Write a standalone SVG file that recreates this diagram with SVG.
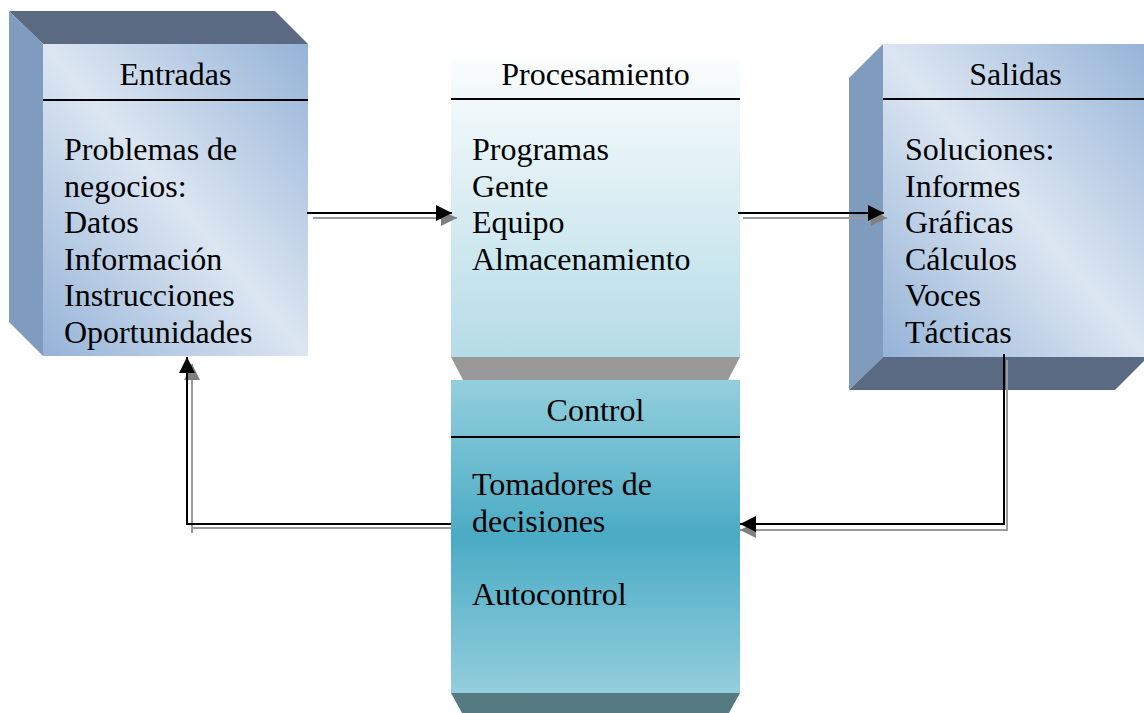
<svg xmlns="http://www.w3.org/2000/svg" width="1144" height="713" viewBox="0 0 1144 713">
<defs>
<linearGradient id="gBlue" x1="1" y1="0" x2="0" y2="1">
<stop offset="0" stop-color="#95b3d7"/>
<stop offset="0.5" stop-color="#dce6f2"/>
<stop offset="1" stop-color="#95b3d7"/>
</linearGradient>
<linearGradient id="gProc" x1="0" y1="0" x2="0" y2="1">
<stop offset="0" stop-color="#fbfdfe"/>
<stop offset="1" stop-color="#b5dce7"/>
</linearGradient>
<linearGradient id="gCtrl" x1="0" y1="0" x2="0" y2="1">
<stop offset="0" stop-color="#93cfdd"/>
<stop offset="0.5" stop-color="#4aabc5"/>
<stop offset="1" stop-color="#93cedc"/>
</linearGradient>
<marker id="ah" viewBox="0 0 10 10" refX="10" refY="5" markerWidth="16" markerHeight="16" markerUnits="userSpaceOnUse" orient="auto">
<path d="M0,0 L10,5 L0,10 z" fill="#000"/>
</marker>
<marker id="ahs" viewBox="0 0 10 10" refX="10" refY="5" markerWidth="16" markerHeight="16" markerUnits="userSpaceOnUse" orient="auto">
<path d="M0,0 L10,5 L0,10 z" fill="#808080"/>
</marker>
</defs>
<style>
text{font-family:"Liberation Serif","Times New Roman",serif;font-size:32px;fill:#000}
.t{text-anchor:middle}
.hl{stroke:#000;stroke-width:2}
.side{fill:#7f9bbd}
.dark{fill:#5a6a82}
.sh{fill:none;stroke:#9a9a9a;stroke-width:2}
.ln{fill:none;stroke:#000;stroke-width:2}
</style>
<rect width="1144" height="713" fill="#fff"/>

<g id="entradas">
<polygon class="dark" points="9,11 275,11 308,44 43,44"/>
<polygon class="side" points="9,11 43,44 43,356 9,322"/>
<rect x="43" y="44" width="265" height="312" fill="url(#gBlue)"/>
<line class="hl" x1="43" y1="100" x2="308" y2="100"/>
<text class="t" x="175.5" y="85">Entradas</text>
<text x="64" y="160">Problemas de</text>
<text x="64" y="196.5">negocios:</text>
<text x="64" y="233">Datos</text>
<text x="64" y="269.5">Información</text>
<text x="64" y="306">Instrucciones</text>
<text x="64" y="342.5">Oportunidades</text>
</g>

<g id="procesamiento">
<rect x="451" y="58" width="289" height="299" fill="url(#gProc)"/>
<polygon fill="#999999" points="451,357 740,357 728,380 463,380"/>
<line class="hl" x1="451" y1="99" x2="740" y2="99"/>
<text class="t" x="595.5" y="85">Procesamiento</text>
<text x="472" y="160">Programas</text>
<text x="472" y="196.5">Gente</text>
<text x="472" y="233">Equipo</text>
<text x="472" y="269.5">Almacenamiento</text>
</g>

<g id="control">
<rect x="451" y="380" width="289" height="313" fill="url(#gCtrl)"/>
<polygon fill="#567a81" points="451,693 740,693 729,713 462,713"/>
<line class="hl" x1="451" y1="437" x2="740" y2="437"/>
<text class="t" x="595.5" y="421">Control</text>
<text x="472" y="495">Tomadores de</text>
<text x="472" y="531.5">decisiones</text>
<text x="472" y="605">Autocontrol</text>
</g>

<g id="salidas">
<polygon class="side" points="849,78 883,44 883,357 849,390"/>
<polygon class="dark" points="849,390 883,357 1148,357 1115,390"/>
<rect x="883" y="44" width="265" height="313" fill="url(#gBlue)"/>
<line class="hl" x1="883" y1="99" x2="1148" y2="99"/>
<text class="t" x="1015.5" y="85">Salidas</text>
<text x="905" y="160">Soluciones:</text>
<text x="905" y="196.5">Informes</text>
<text x="905" y="233">Gráficas</text>
<text x="905" y="269.5">Cálculos</text>
<text x="905" y="306">Voces</text>
<text x="905" y="342.5">Tácticas</text>
</g>

<g id="connectors">
<polyline class="sh" points="313,218 457,218" marker-end="url(#ahs)"/>
<polyline class="sh" points="743,218 887,218" marker-end="url(#ahs)"/>
<polyline class="sh" points="1007,360 1007,530 740,530" marker-end="url(#ahs)"/>
<polyline class="sh" points="451,528 192,528 192,364" marker-end="url(#ahs)"/>
<line class="sh" x1="192" y1="528" x2="192" y2="533"/>
<polyline class="ln" points="307,213 452,213" marker-end="url(#ah)"/>
<polyline class="ln" points="738,213 884,213" marker-end="url(#ah)"/>
<polyline class="ln" points="1004,354 1004,524 740,524" marker-end="url(#ah)"/>
<polyline class="ln" points="451,524 187,524 187,357" marker-end="url(#ah)"/>
</g>
</svg>
